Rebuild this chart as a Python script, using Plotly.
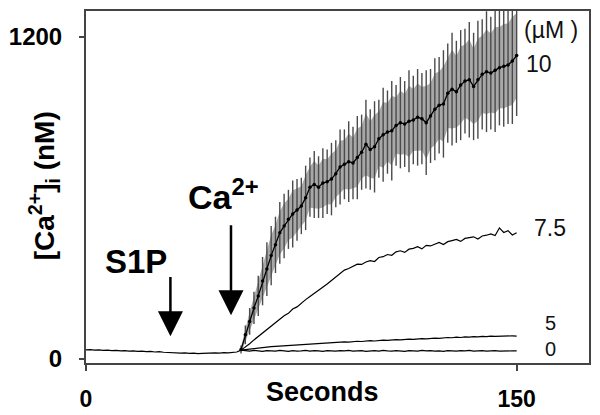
import numpy as np
import plotly.graph_objects as go

# ---- data ----
t_base = np.arange(0, 54.01, 1.5)           # seconds, before Ca2+ response
baseline = [34, 35, 33, 34, 32, 33, 31, 32, 30, 31, 29, 30, 28, 29, 27, 28, 26, 27, 25,
            24, 25, 23, 22, 23, 21, 22, 20, 21, 22, 21, 23, 22, 24, 23, 25, 26, 33]

t_resp = np.arange(54, 150.01, 1.5)         # seconds, after Ca2+ addition
mean_10 = [35, 90, 140, 190, 235, 290, 335, 385, 425, 470, 495, 520, 540, 555, 570, 600,
           640, 650, 640, 655, 660, 670, 690, 715, 725, 735, 730, 750, 770, 800, 780, 790,
           820, 835, 845, 850, 870, 880, 875, 885, 890, 900, 895, 880, 905, 930, 945, 950,
           990, 1005, 995, 1020, 1035, 1040, 1015, 1040, 1060, 1070, 1065, 1075, 1085,
           1090, 1095, 1110, 1130]
err_10 = [15, 35, 50, 60, 75, 90, 100, 110, 105, 115, 120, 110, 125, 115, 105, 120, 110,
          125, 115, 130, 120, 135, 125, 140, 130, 150, 135, 155, 140, 165, 150, 170, 145,
          175, 155, 185, 150, 170, 160, 190, 165, 180, 170, 195, 175, 190, 180, 200, 185,
          210, 190, 205, 195, 215, 200, 220, 205, 225, 210, 230, 215, 225, 220, 235, 225]
conc_75 = [33, 44, 57, 71, 84, 97, 109, 123, 134, 149, 161, 170, 186, 194, 209, 221, 233,
           244, 256, 268, 279, 292, 306, 319, 331, 337, 346, 353, 352, 361, 366, 363, 378,
           381, 389, 386, 399, 403, 397, 409, 412, 418, 410, 423, 421, 428, 434, 426, 437,
           441, 445, 438, 449, 452, 455, 447, 458, 461, 466, 460, 488, 471, 478, 462, 470]
conc_5 = [33, 35, 38, 40, 41, 43, 44, 46, 47, 48, 50, 51, 52, 54, 55, 56, 57, 58, 59, 60,
          60, 62, 61, 63, 64, 63, 65, 66, 65, 67, 68, 67, 69, 70, 69, 71, 72, 71, 73, 74,
          73, 75, 76, 75, 77, 78, 77, 79, 80, 79, 81, 80, 82, 81, 83, 82, 84, 83, 85, 84,
          85, 86, 85, 86, 85]
conc_0 = [33, 31, 29, 32, 30, 28, 31, 30, 29, 32, 30, 28, 31, 29, 30, 32, 29, 31, 30, 28,
          31, 30, 29, 31, 30, 32, 29, 30, 31, 28, 30, 31, 29, 32, 30, 29, 31, 30, 28, 31,
          30, 29, 32, 30, 31, 29, 30, 28, 31, 30, 29, 31, 30, 32, 29, 30, 31, 29, 30, 31,
          29, 30, 31, 30, 30]

right_labels = ["(µM )", "10", "7.5", "5", "0"]

# page geometry of the plot area (the page body adds an 8 px offset)
PL, PR, PT, PB = 82, 589, 9, 363


def px(x):
    return (x - PL) / (PR - PL)


def py(y):
    return (PB - y) / (PB - PT)


fig = go.Figure()

# light gray envelope for 10 uM SEM
m10 = np.array(mean_10, dtype=float)
e10 = np.array(err_10, dtype=float)
fig.add_trace(go.Scatter(x=t_resp, y=m10 + 0.7 * e10, mode="lines",
                         line=dict(width=0, color="rgba(0,0,0,0)"), hoverinfo="skip"))
fig.add_trace(go.Scatter(x=t_resp, y=m10 - 0.7 * e10, mode="lines", fill="tonexty",
                         fillcolor="#a8a8a8", line=dict(width=0, color="rgba(0,0,0,0)"),
                         hoverinfo="skip"))

line_style = dict(color="black", width=1.2)
fig.add_trace(go.Scatter(x=t_base, y=baseline, mode="lines", line=line_style))
fig.add_trace(go.Scatter(x=t_resp, y=conc_0, mode="lines", line=line_style))
fig.add_trace(go.Scatter(x=t_resp, y=conc_5, mode="lines", line=line_style))
fig.add_trace(go.Scatter(x=t_resp, y=conc_75, mode="lines", line=line_style))
fig.add_trace(go.Scatter(x=t_resp, y=mean_10, mode="lines+markers",
                         line=dict(color="black", width=1.3),
                         marker=dict(color="black", size=3.5),
                         error_y=dict(type="data", array=err_10, visible=True,
                                      color="#4a4a4a", thickness=1.4, width=0)))

bold = dict(family="Liberation Sans, Arial, sans-serif", color="black", weight="bold")

fig.update_layout(
    width=592, height=407,
    margin=dict(l=74, r=11, t=1, b=52),
    paper_bgcolor="white", plot_bgcolor="white",
    showlegend=False,
    xaxis=dict(range=[0, 175.2], tickvals=[0, 150], ticktext=["0", "150"],
               ticks="outside", ticklen=6, tickcolor="#444", tickwidth=1.5,
               showgrid=False, zeroline=False, showline=True, mirror=True,
               linecolor="#444", linewidth=2,
               tickfont=dict(size=23, **bold), ticklabelstandoff=8),
    yaxis=dict(range=[-15, 1296], tickvals=[0, 1200], ticktext=["0", "1200"],
               ticks="outside", ticklen=5, tickcolor="#444", tickwidth=1.5,
               showgrid=False, zeroline=False, showline=True, mirror=True,
               linecolor="#444", linewidth=2,
               tickfont=dict(size=24, **bold), ticklabelstandoff=12),
)

ann = []
# axis titles
ann.append(dict(text="Seconds", xref="paper", yref="paper", x=px(320), y=py(392),
                xanchor="center", yanchor="middle", showarrow=False,
                font=dict(size=27, **bold)))
ann.append(dict(text="[Ca<sup>2+</sup>]<sub>i</sub> (nM)", xref="paper", yref="paper",
                x=px(40), y=py(185), textangle=-90, xanchor="center", yanchor="middle",
                showarrow=False, font=dict(size=28, **bold)))
# event labels and arrows
ann.append(dict(text="S1P", xref="paper", yref="paper", x=px(132), y=py(261),
                xanchor="center", yanchor="middle", showarrow=False,
                font=dict(size=33, **bold)))
ann.append(dict(text="Ca<sup>2+</sup>", xref="paper", yref="paper", x=px(183), y=py(194),
                xanchor="left", yanchor="middle", showarrow=False,
                font=dict(size=34, **bold)))
ann.append(dict(text="", xref="x", yref="y", x=29.4, y=85, axref="x", ayref="y",
                ax=29.4, ay=311, showarrow=True, arrowhead=2, arrowsize=2.0,
                arrowwidth=2.5, arrowcolor="black"))
ann.append(dict(text="", xref="x", yref="y", x=50.5, y=163, axref="x", ayref="y",
                ax=50.5, ay=504, showarrow=True, arrowhead=2, arrowsize=2.0,
                arrowwidth=2.5, arrowcolor="black"))
# concentration labels
lab_pos = [(521, 28, 23), (523, 62, 23), (532, 227, 23), (543, 323, 20), (543, 349, 20)]
for txt, (lx, ly, fs) in zip(right_labels, lab_pos):
    ann.append(dict(text=txt, xref="paper", yref="paper", x=px(lx), y=py(ly),
                    xanchor="left", yanchor="middle", showarrow=False,
                    font=dict(family="Liberation Sans, Arial, sans-serif", color="#111",
                              size=fs)))
fig.update_layout(annotations=ann)

fig.write_html("out.html")
